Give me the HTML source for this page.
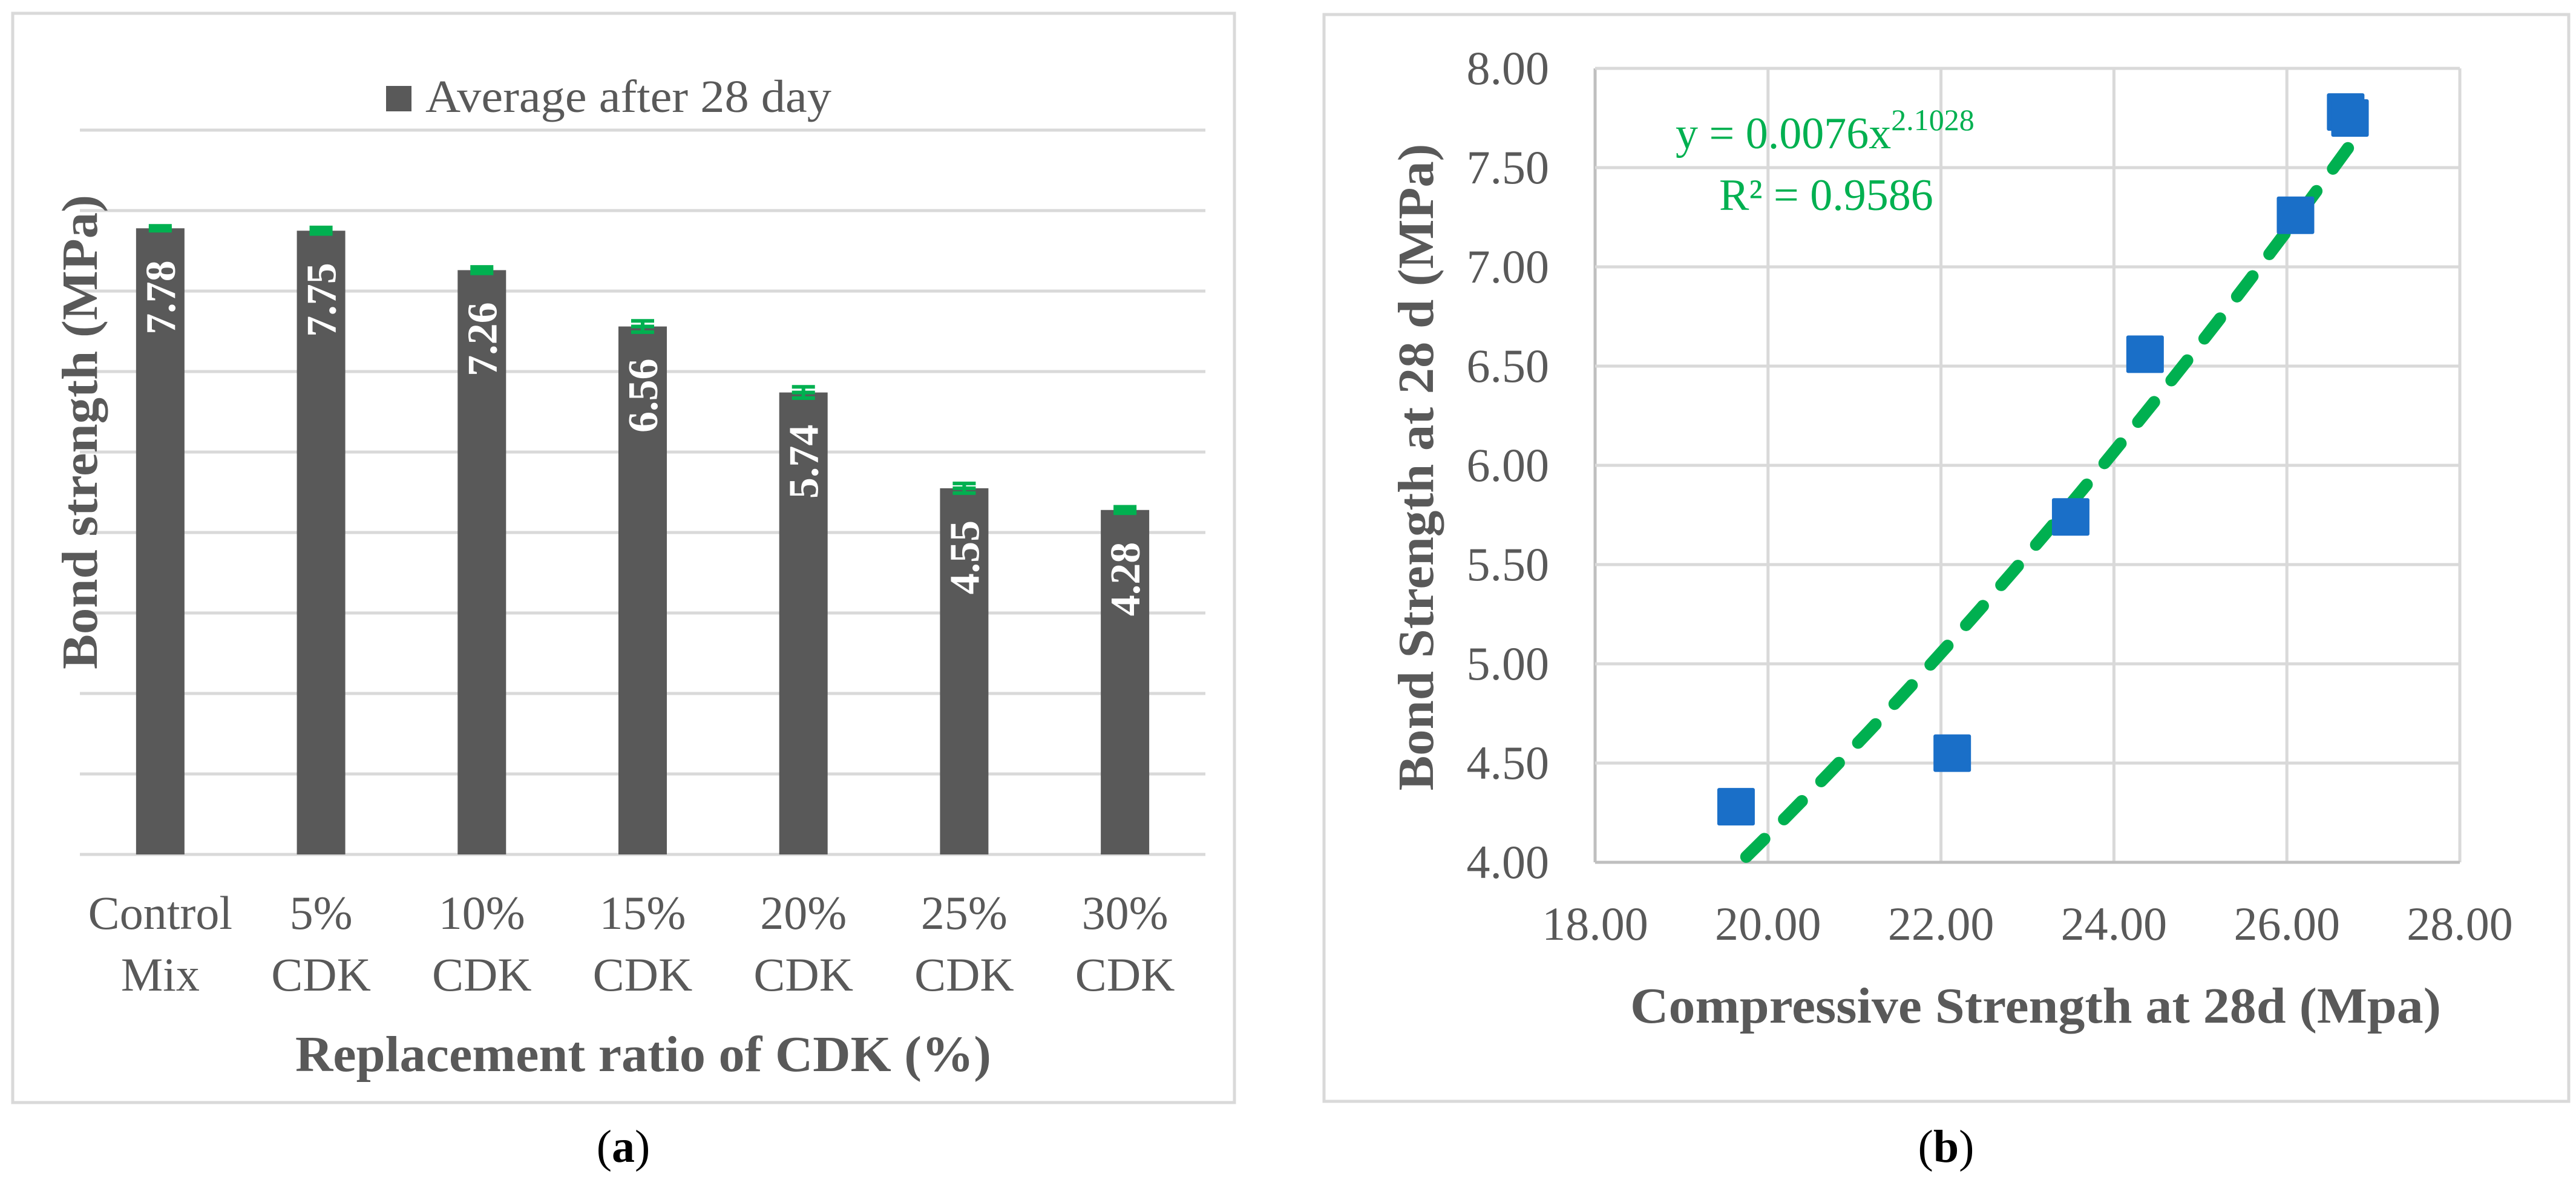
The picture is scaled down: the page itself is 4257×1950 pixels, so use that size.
<!DOCTYPE html>
<html><head><meta charset="utf-8">
<style>
html,body{margin:0;padding:0;background:#fff;}
svg{display:block;}
text{font-family:"Liberation Serif",serif;}
</style></head>
<body>
<svg id="fig" width="4257" height="1950" viewBox="0 0 4257 1950" xmlns="http://www.w3.org/2000/svg">
  <rect x="0" y="0" width="4257" height="1950" fill="#fff"/>
  <!-- Panel a -->
  <g id="panelA">
    <rect x="21" y="22" width="2019" height="1800" fill="#fff" stroke="#d9d9d9" stroke-width="5"/>
    <g id="aGrid"></g>
    <g id="aBars"></g>
    <g id="aErr"></g>
    <g id="aLabels"></g>
    <g id="aCats"></g>
    <rect x="638" y="142" width="42" height="42" fill="#595959"/>
    <text x="703" y="185" font-size="76" fill="#595959" textLength="671" lengthAdjust="spacingAndGlyphs">Average after 28 day</text>
    <text transform="translate(160,714) rotate(-90)" text-anchor="middle" font-size="84" font-weight="bold" fill="#595959" textLength="784" lengthAdjust="spacingAndGlyphs">Bond strength (MPa)</text>
    <text x="1063" y="1770" text-anchor="middle" font-size="84" font-weight="bold" fill="#595959" textLength="1150" lengthAdjust="spacingAndGlyphs">Replacement ratio of CDK (%)</text>
  </g>
  <text x="1030" y="1920" text-anchor="middle" font-size="76" fill="#000">(<tspan font-weight="bold">a</tspan>)</text>

  <!-- Panel b -->
  <g id="panelB">
    <rect x="2188" y="24" width="2057" height="1796" fill="#fff" stroke="#d9d9d9" stroke-width="5"/>
    <g id="bGrid"></g>
    <g id="bTicks"></g>
    <g id="bTrend"></g>
    <g id="bPts"></g>
    <text x="2769" y="245" font-size="74" fill="#00b050">y = 0.0076x<tspan dy="-30" font-size="50">2.1028</tspan></text>
    <text x="2841" y="347" font-size="74" fill="#00b050">R² = 0.9586</text>
    <text transform="translate(2368,772) rotate(-90)" text-anchor="middle" font-size="84" font-weight="bold" fill="#595959" textLength="1069" lengthAdjust="spacingAndGlyphs">Bond Strength at 28 d (MPa)</text>
    <text x="3364" y="1690" text-anchor="middle" font-size="84" font-weight="bold" fill="#595959" textLength="1340" lengthAdjust="spacingAndGlyphs">Compressive Strength at 28d (Mpa)</text>
  </g>
  <text x="3216" y="1920" text-anchor="middle" font-size="76" fill="#000">(<tspan font-weight="bold">b</tspan>)</text>
</svg>
<script>
// ---- Panel a data ----
const catLine1 = ["Control","5%","10%","15%","20%","25%","30%"];
const catLine2 = ["Mix","CDK","CDK","CDK","CDK","CDK","CDK"];
const barValues = [7.78, 7.75, 7.26, 6.56, 5.74, 4.55, 4.28];
const barLabels = ["7.78","7.75","7.26","6.56","5.74","4.55","4.28"];
const barErrors = [0.03, 0.04, 0.04, 0.07, 0.07, 0.06, 0.04];
const aYTicks = [0,1,2,3,4,5,6,7,8,9];
// ---- Panel b data ----
const compStrength = [19.63, 22.13, 23.5, 24.36, 26.1, 26.68, 26.73];
const bondStrength = [4.28, 4.55, 5.74, 6.56, 7.26, 7.78, 7.75];
const bXTicks = [18,20,22,24,26,28];
const bXTickLabels = ["18.00","20.00","22.00","24.00","26.00","28.00"];
const bYTicks = [4,4.5,5,5.5,6,6.5,7,7.5,8];
const bYTickLabels = ["4.00","4.50","5.00","5.50","6.00","6.50","7.00","7.50","8.00"];
const trendCoef = 0.0076;
const trendExp = 2.1028;

const NS = "http://www.w3.org/2000/svg";
function mk(tag, attrs, parent){const e=document.createElementNS(NS,tag);for(const k in attrs)e.setAttribute(k,attrs[k]);parent.appendChild(e);return e;}

// Panel a axes
const aLeft=132, aRight=1992, aBase=1412, aUnit=133;
const aY = v => aBase - v*aUnit;
const aBand = (aRight-aLeft)/barValues.length;
const aX = i => aLeft + aBand*(i+0.5);

const aGrid=document.getElementById('aGrid');
aYTicks.forEach(t=>{
  const l=mk('line',{x1:aLeft,x2:aRight,y1:aY(t),y2:aY(t),stroke:'#d9d9d9','stroke-width':5},aGrid);
  
  
});
const aBars=document.getElementById('aBars'), aErr=document.getElementById('aErr'), aLab=document.getElementById('aLabels'), aCats=document.getElementById('aCats');
barValues.forEach((v,i)=>{
  const cx=aX(i), w=80;
  const r=mk('rect',{x:cx-w/2,y:aY(v),width:w,height:aBase-aY(v),fill:'#595959'},aBars);
  
  
  const e=barErrors[i];
  const g=mk('g',{stroke:'#00b050','stroke-width':6},aErr);
  
  
  mk('line',{x1:cx,x2:cx,y1:aY(v+e),y2:aY(v-e)},g);
  mk('line',{x1:cx-19,x2:cx+19,y1:aY(v+e),y2:aY(v+e)},g);
  mk('line',{x1:cx-19,x2:cx+19,y1:aY(v-e),y2:aY(v-e)},g);
  mk('line',{x1:cx-19,x2:cx+19,y1:aY(v),y2:aY(v)},g);
  const t=mk('text',{transform:`translate(${cx+24},${aY(v)+53}) rotate(-90)`,'text-anchor':'end','font-size':70,'font-weight':'bold',fill:'#fff'},aLab);
  t.textContent=barLabels[i];
  
  
  const c1=mk('text',{x:cx,y:1535,'text-anchor':'middle','font-size':78,fill:'#595959'},aCats);
  c1.textContent=catLine1[i];
  
  
  const c2=mk('text',{x:cx,y:1637,'text-anchor':'middle','font-size':78,fill:'#595959'},aCats);
  c2.textContent=catLine2[i];
  
  
});

// Panel b axes
const bL=2636, bR=4065, bT=113, bB=1425;
const bX = v => bL + (v-18)/(28-18)*(bR-bL);
const bY = v => bB - (v-4)/(8-4)*(bB-bT);
const bGrid=document.getElementById('bGrid'), bTicks=document.getElementById('bTicks');
bXTicks.forEach((t,i)=>{
  const l=mk('line',{x1:bX(t),x2:bX(t),y1:bT,y2:bB,stroke:i===0?'#bfbfbf':'#d9d9d9','stroke-width':5},bGrid);
  
  
  const tx=mk('text',{x:bX(t),y:1553,'text-anchor':'middle','font-size':78,fill:'#595959'},bTicks);
  tx.textContent=bXTickLabels[i];
  
  
});
bYTicks.forEach((t,i)=>{
  const l=mk('line',{x1:bL,x2:bR,y1:bY(t),y2:bY(t),stroke:i===0?'#bfbfbf':'#d9d9d9','stroke-width':5},bGrid);
  
  
  const tx=mk('text',{x:2560,y:bY(t)+26,'text-anchor':'end','font-size':78,fill:'#595959'},bTicks);
  tx.textContent=bYTickLabels[i];
  
  
});
const bPts=document.getElementById('bPts');
compStrength.forEach((x,i)=>{
  const s=62;
  const r=mk('rect',{x:bX(x)-s/2,y:bY(bondStrength[i])-s/2,width:s,height:s,fill:'#1a6fc8',rx:3},bPts);
  
  
});
// trendline
const xMin=Math.min(...compStrength), xMax=Math.max(...compStrength);
let d='';
for(let k=0;k<=60;k++){
  const x=xMin+(xMax-xMin)*k/60;
  let y=trendCoef*Math.pow(x,trendExp);
  if(y<4) continue;
  d+=(d?'L':'M')+bX(x).toFixed(1)+','+bY(y).toFixed(1);
}
const tp=mk('path',{d:d,fill:'none',stroke:'#00b050','stroke-width':20,'stroke-linecap':'round','stroke-dasharray':'42 46'},document.getElementById('bTrend'));


</script>
</body></html>
